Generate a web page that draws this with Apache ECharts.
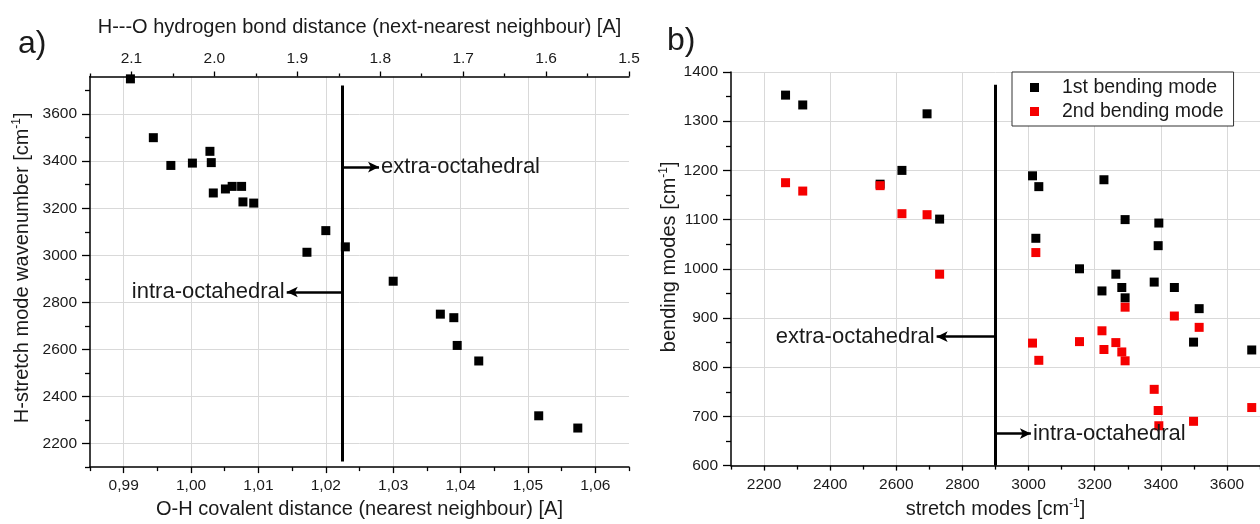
<!DOCTYPE html>
<html>
<head>
<meta charset="utf-8">
<script src="https://cdn.jsdelivr.net/npm/echarts@6/dist/echarts.min.js"></script>
<style>
html,body{margin:0;padding:0;background:#fff;}
#chart{width:1260px;height:524px;}
</style>
</head>
<body>
<div id="chart"></div>
<script>
// ---------- Panel a) data ----------
const covalentDist = [0.9910, 0.9944, 0.9970, 1.0002, 1.0028, 1.0030, 1.0033, 1.0051, 1.0061, 1.0075, 1.0077, 1.0093, 1.0172, 1.0200, 1.0229, 1.0300, 1.0370, 1.0390, 1.0395, 1.0427, 1.0516, 1.0574];
const hStretch     = [3750, 3500, 3382, 3392, 3442, 3394, 3265, 3282, 3293, 3293, 3227, 3222, 3013, 3105, 3036, 2890, 2750, 2735, 2617, 2551, 2318, 2266];

const aXTicks      = [0.99, 1.00, 1.01, 1.02, 1.03, 1.04, 1.05, 1.06];
const aXMinorTicks = [0.985, 0.995, 1.005, 1.015, 1.025, 1.035, 1.045, 1.055, 1.065];
const aYTicks      = [2200, 2400, 2600, 2800, 3000, 3200, 3400, 3600];
const aYMinorTicks = [2100, 2300, 2500, 2700, 2900, 3100, 3300, 3500, 3700];
const aTopTicks      = [1.5, 1.6, 1.7, 1.8, 1.9, 2.0, 2.1];
const aTopMinorTicks = [1.55, 1.65, 1.75, 1.85, 1.95, 2.05, 2.15];

// annotation values of panel a)
const aDivider    = { x: 1.0224, yFrom: 2124, yTo: 3722 };
const aExtraArrow = { y: 3375, xEnd: 1.0279 };
const aIntraArrow = { y: 2844, xEnd: 1.0142 };

// ---------- Panel b) data ----------
const stretchModes = [2265, 2317, 2551, 2617, 2693, 2731, 3012, 3022, 3031, 3154, 3222, 3228, 3264, 3282, 3292, 3292, 3380, 3392, 3394, 3441, 3499, 3516, 3675];
const bending1st   = [1353, 1333, 1172, 1200, 1315, 1101, 1189, 1062, 1167, 1000,  955, 1181,  989,  962, 1100,  941,  973, 1047, 1093,  962,  851,  919,  835];
const bending2nd   = [1175, 1158, 1169, 1112, 1110,  989,  849, 1033,  814,  852,  874,  836,  850,  831,  922,  813,  755,  712,  681,  904,  690,  881,  718];

const bXTicks      = [2200, 2400, 2600, 2800, 3000, 3200, 3400, 3600];
const bXMinorTicks = [2100, 2300, 2500, 2700, 2900, 3100, 3300, 3500, 3700];
const bYTicks      = [600, 700, 800, 900, 1000, 1100, 1200, 1300, 1400];
const bYMinorTicks = [650, 750, 850, 950, 1050, 1150, 1250, 1350];

const bDivider    = { x: 2900, yFrom: 600, yTo: 1374 };
const bExtraArrow = { y: 862, xEnd: 2722 };
const bIntraArrow = { y: 665, xEnd: 3007 };

// ---------- styles ----------
const FONT = '"Liberation Sans", Arial, sans-serif';
const TXT = '#1a1a1a';
const RED = '#f50000';
const gridColor = '#d9d9d9';
const axisLineStyle = { color: '#000', width: 1.5 };
const tickLabel = { color: TXT, fontSize: 15.5, fontFamily: FONT };
function nameStyle(pad) {
  return { color: TXT, fontSize: 20, fontFamily: FONT, padding: pad || 0,
    rich: { sup: { fontSize: 12, padding: [0, 0, 11, 0], fontFamily: FONT, color: TXT } } };
}
const plainFmt = v => String(Math.round(v));
const commaFmt = v => v.toFixed(2).replace('.', ',');

function mainAxis(extra) {
  return Object.assign({
    type: 'value', scale: true,
    axisLine: { show: true, onZero: false, lineStyle: axisLineStyle },
    splitLine: { show: true, lineStyle: { color: gridColor, width: 1 } },
    nameTextStyle: nameStyle()
  }, extra);
}
function minorAxis(extra) {
  return Object.assign({
    type: 'value', scale: true,
    axisLine: { show: false, onZero: false },
    axisLabel: { show: false },
    splitLine: { show: false }
  }, extra);
}
function ticks(values, len) {
  return { show: true, inside: false, length: len, customValues: values, lineStyle: { color: '#000', width: 1.3 } };
}
function labels(values, fmt, margin) {
  return Object.assign({ margin: margin, customValues: values, formatter: fmt }, tickLabel);
}

function arrowLine(x1, y1, x2, y2, text) {
  return [
    { coord: [x1, y1], symbol: 'none' },
    { coord: [x2, y2], symbol: 'arrow', symbolSize: [8, 11],
      label: { show: true, position: 'end', formatter: text, color: TXT, fontSize: 22, fontFamily: FONT, distance: 2 } }
  ];
}
function dividerMarks(div, extra, intra) {
  return {
    silent: true, animation: false, precision: 6,
    lineStyle: { color: '#000', width: 2.5, type: 'solid' },
    label: { show: false },
    data: [
      [ { coord: [div.x, div.yFrom], symbol: 'none' },
        { coord: [div.x, div.yTo], symbol: 'none', lineStyle: { width: 3 } } ],
      arrowLine(div.x, extra.y, extra.xEnd, extra.y, 'extra-octahedral'),
      arrowLine(div.x, intra.y, intra.xEnd, intra.y, 'intra-octahedral')
    ]
  };
}

const chart = echarts.init(document.getElementById('chart'), null, { renderer: 'canvas' });

const option = {
  animation: false,
  backgroundColor: '#fff',
  title: [
    { text: 'a)', left: 13, top: 23, textStyle: { fontSize: 32, fontWeight: 'normal', color: TXT, fontFamily: FONT } },
    { text: 'b)', left: 662, top: 20, textStyle: { fontSize: 32, fontWeight: 'normal', color: TXT, fontFamily: FONT } }
  ],
  legend: {
    show: true, orient: 'vertical', left: 1012, top: 72,
    backgroundColor: '#fff', borderColor: '#333', borderWidth: 1,
    padding: [5, 10, 4, 18], itemGap: 3, itemWidth: 9, itemHeight: 9,
    textStyle: { fontSize: 19.5, lineHeight: 21, color: TXT, fontFamily: FONT, padding: [0, 0, 0, 18] },
    data: [
      { name: '1st bending mode', icon: 'rect', itemStyle: { color: '#000', opacity: 1 } },
      { name: '2nd bending mode', icon: 'rect', itemStyle: { color: RED, opacity: 1 } }
    ]
  },
  grid: [
    { left: 90, top: 76.5, width: 539, height: 398 },
    { left: 731, top: 72, width: 538.5, height: 397 }
  ],
  xAxis: [
    mainAxis({ gridIndex: 0, position: 'bottom', min: 0.985, max: 1.065,
      axisTick: ticks(aXTicks, 6), axisLabel: labels(aXTicks, commaFmt, 11),
      name: 'O-H covalent distance (nearest neighbour) [A]', nameLocation: 'middle', nameGap: 29 }),
    minorAxis({ gridIndex: 0, position: 'bottom', min: 0.985, max: 1.065,
      axisTick: ticks(aXMinorTicks, 4) }),
    mainAxis({ gridIndex: 0, position: 'top', min: 1.5, max: 2.15, inverse: true,
      axisTick: ticks(aTopTicks, 5), axisLabel: labels(aTopTicks, v => v.toFixed(1), 10),
      splitLine: { show: false },
      name: 'H---O hydrogen bond distance (next-nearest neighbour) [A]', nameLocation: 'middle', nameGap: 39 }),
    minorAxis({ gridIndex: 0, position: 'top', min: 1.5, max: 2.15, inverse: true,
      axisTick: ticks(aTopMinorTicks, 3) }),
    mainAxis({ gridIndex: 1, position: 'bottom', min: 2100, max: 3700,
      axisTick: ticks(bXTicks, 5), axisLabel: labels(bXTicks, plainFmt, 11),
      name: 'stretch modes [cm{sup|-1}]', nameLocation: 'middle', nameGap: 29 }),
    minorAxis({ gridIndex: 1, position: 'bottom', min: 2100, max: 3700,
      axisTick: ticks(bXMinorTicks, 4) })
  ],
  yAxis: [
    mainAxis({ gridIndex: 0, position: 'left', min: 2100, max: 3760,
      axisTick: ticks(aYTicks, 8), axisLabel: labels(aYTicks, plainFmt, 13),
      name: 'H-stretch mode wavenumber [cm{sup|-1}]', nameLocation: 'middle', nameGap: 56,
      nameTextStyle: nameStyle([0, 0, 0, 8]) }),
    minorAxis({ gridIndex: 0, position: 'left', min: 2100, max: 3760,
      axisTick: ticks(aYMinorTicks, 5) }),
    mainAxis({ gridIndex: 1, position: 'left', min: 600, max: 1400,
      axisTick: ticks(bYTicks, 8), axisLabel: labels(bYTicks, plainFmt, 13),
      name: 'bending modes [cm{sup|-1}]', nameLocation: 'middle', nameGap: 41,
      nameTextStyle: nameStyle([0, 0, 0, 24]) }),
    minorAxis({ gridIndex: 1, position: 'left', min: 600, max: 1400,
      axisTick: ticks(bYMinorTicks, 5) })
  ],
  series: [
    {
      name: 'H-stretch', type: 'scatter', xAxisIndex: 0, yAxisIndex: 0,
      symbol: 'rect', symbolSize: 9, itemStyle: { color: '#000', opacity: 1 },
      data: covalentDist.map((x, i) => [x, hStretch[i]]),
      markLine: dividerMarks(aDivider, aExtraArrow, aIntraArrow)
    },
    {
      name: '1st bending mode', type: 'scatter', xAxisIndex: 4, yAxisIndex: 2,
      symbol: 'rect', symbolSize: 9, itemStyle: { color: '#000', opacity: 1 },
      data: stretchModes.map((x, i) => [x, bending1st[i]]),
      markLine: dividerMarks(bDivider, bExtraArrow, bIntraArrow)
    },
    {
      name: '2nd bending mode', type: 'scatter', xAxisIndex: 4, yAxisIndex: 2,
      symbol: 'rect', symbolSize: 9, itemStyle: { color: RED, opacity: 1 },
      data: stretchModes.map((x, i) => [x, bending2nd[i]])
    }
  ]
};
chart.setOption(option);
</script>
</body>
</html>
